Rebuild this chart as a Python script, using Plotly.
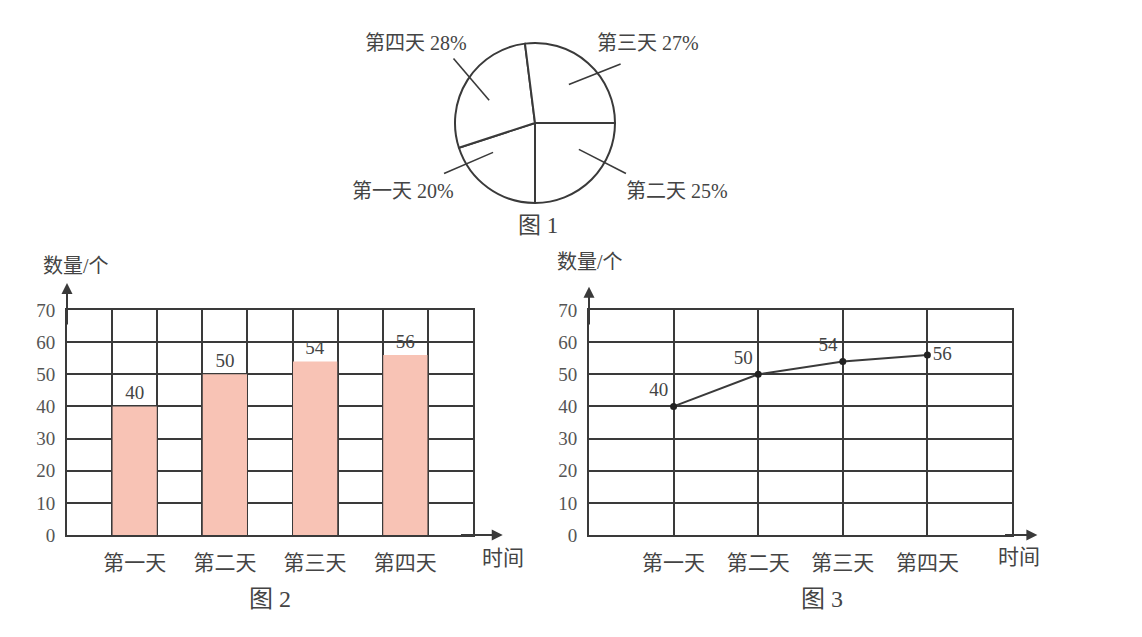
import math
import plotly.graph_objects as go

W, H = 1142, 637

# ---------------- data ----------------
days = ['第一天', '第二天', '第三天', '第四天']
counts = [40, 50, 54, 56]
shares = [20, 25, 27, 28]          # percent, figure 1
y_ticks = [0, 10, 20, 30, 40, 50, 60, 70]
y_title = '数量/个'
x_title = '时间'
fig_titles = ['图 1', '图 2', '图 3']

# pie slices clockwise starting at 3 o'clock
pie_order = [1, 0, 3, 2]
# angular shift (degrees) of the inner / outer end of each leader line, by day index
leader_shift_in = [19, -14, 0, -6]
leader_shift_out = [25, -16, 14, 6]

LC = '#3a3a3a'
TC = '#444444'
FONT = 'Liberation Serif, Noto Sans CJK SC, serif'

positions = list(range(1, len(days) + 1))

fig = go.Figure()

# ---------------- figure 1 : pie ----------------
pcx, pcy, pr = 535, 123, 80
pie_dom_x = [(pcx - pr) / W, (pcx + pr) / W]
pie_dom_y = [1 - (pcy + pr) / H, 1 - (pcy - pr) / H]

fig.add_trace(go.Pie(
    labels=[days[i] for i in pie_order],
    values=[shares[i] for i in pie_order],
    sort=False, direction='clockwise', rotation=90,
    marker=dict(colors=['white'] * 4, line=dict(color=LC, width=2)),
    textinfo='none', hoverinfo='label+percent', showlegend=False,
    domain=dict(x=pie_dom_x, y=pie_dom_y),
))

shapes = []
annotations = []
pie_label_pos = {0: (403, 191), 1: (677, 191), 2: (648, 43), 3: (416, 43)}
start = 90.0
for i in pie_order:
    span = shares[i] / sum(shares) * 360.0
    mid = start + span / 2
    start += span
    a_in = math.radians(mid + leader_shift_in[i])
    a_out = math.radians(mid + leader_shift_out[i])
    p_in = (pcx + 0.64 * pr * math.sin(a_in), pcy - 0.64 * pr * math.cos(a_in))
    p_out = (pcx + 1.3 * pr * math.sin(a_out), pcy - 1.3 * pr * math.cos(a_out))
    shapes.append(dict(type='line', xref='paper', yref='paper',
                       x0=p_in[0] / W, y0=1 - p_in[1] / H,
                       x1=p_out[0] / W, y1=1 - p_out[1] / H,
                       line=dict(color=LC, width=1.6)))
    lx, ly = pie_label_pos[i]
    annotations.append(dict(text=f'{days[i]} {shares[i]}%', x=lx / W, y=1 - ly / H,
                            xref='paper', yref='paper', showarrow=False,
                            xanchor='center', yanchor='middle',
                            font=dict(family=FONT, size=20, color=TC)))

# ---------------- figure 2 : bars ----------------
fig.add_trace(go.Bar(
    x=positions, y=counts, width=0.49,
    marker=dict(color='#F8C3B5', line=dict(width=0)),
    text=[str(v) for v in counts], textposition='outside',
    textfont=dict(family=FONT, size=19, color=TC),
    cliponaxis=False, showlegend=False, xaxis='x', yaxis='y',
))

# ---------------- figure 3 : line ----------------
fig.add_trace(go.Scatter(
    x=positions, y=counts, mode='lines+markers+text',
    text=[str(v) for v in counts],
    textposition=['top left', 'top left', 'top left', 'middle right'],
    textfont=dict(family=FONT, size=19, color=TC),
    line=dict(color=LC, width=2), marker=dict(size=7, color='#222'),
    cliponaxis=False, showlegend=False, xaxis='x2', yaxis='y2',
))

y_dom = [1 - 535 / H, 1 - 310 / H]
common_y = dict(range=[0, 70], tickvals=y_ticks, showgrid=True, gridcolor=LC, gridwidth=2,
                showline=True, linecolor=LC, linewidth=2, mirror=True, ticks='',
                zeroline=False, ticklabelstandoff=6, fixedrange=True, automargin=False,
                tickfont=dict(family=FONT, size=19, color='#555'), domain=y_dom)
common_x = dict(tickvals=positions, ticktext=days, showline=True, linecolor=LC, linewidth=2,
                mirror=True, ticks='', zeroline=False, ticklabelstandoff=8, fixedrange=True,
                automargin=False, tickfont=dict(family=FONT, size=21, color=TC))

fig.update_layout(
    xaxis=dict(domain=[67 / W, 473 / W], range=[0.25, 4.75], anchor='y', showgrid=False,
               minor=dict(tickvals=[0.25 + 0.5 * k for k in range(10)], showgrid=True,
                          gridcolor=LC, gridwidth=2, ticks=''),
               **common_x),
    yaxis=dict(anchor='x', **common_y),
    xaxis2=dict(domain=[589 / W, 1012 / W], range=[0, 5], anchor='y2', showgrid=True,
                gridcolor=LC, gridwidth=2, **common_x),
    yaxis2=dict(anchor='x2', **common_y),
)

# axis arrows
for xr, yr, xa, xend, ytop, xtail in [('x', 'y', 0.25, 5.08, 78.4, 4.6),
                                      ('x2', 'y2', 0, 5.3, 77.2, 4.9)]:
    annotations.append(dict(x=xa, y=ytop, ax=xa, ay=65, xref=xr, yref=yr, axref=xr, ayref=yr,
                            text='', showarrow=True, arrowhead=2, arrowsize=1.1,
                            arrowwidth=2, arrowcolor=LC))
    annotations.append(dict(x=xend, y=0, ax=xtail, ay=0, xref=xr, yref=yr, axref=xr, ayref=yr,
                            text='', showarrow=True, arrowhead=2, arrowsize=1.1,
                            arrowwidth=2, arrowcolor=LC))

# axis titles and figure captions
for txt, (px, py), size in [(y_title, (76, 266), 20), (x_title, (503, 558), 21),
                            (y_title, (590, 262), 20), (x_title, (1019, 557), 21),
                            (fig_titles[0], (538, 225), 23), (fig_titles[1], (270, 599), 24),
                            (fig_titles[2], (822, 599), 24)]:
    annotations.append(dict(text=txt, x=px / W, y=1 - py / H, xref='paper', yref='paper',
                            xanchor='center', yanchor='middle',
                            showarrow=False, font=dict(family=FONT, size=size, color=TC)))

fig.update_layout(
    width=W, height=H, autosize=False,
    margin=dict(l=0, r=0, t=0, b=0, pad=0, autoexpand=False),
    paper_bgcolor='white', plot_bgcolor='white',
    showlegend=False, shapes=shapes, annotations=annotations,
)

fig.write_html('out.html', config={'displayModeBar': False},
               post_script="document.body.style.margin='0';document.body.style.overflow='hidden';")
